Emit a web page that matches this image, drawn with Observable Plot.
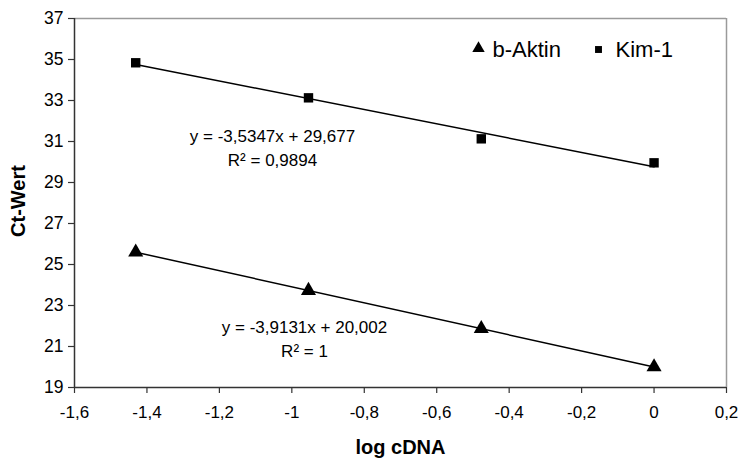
<!DOCTYPE html>
<html>
<head>
<meta charset="utf-8">
<script src="https://cdn.jsdelivr.net/npm/d3@7"></script>
<script src="https://cdn.jsdelivr.net/npm/@observablehq/plot@0.6"></script>
<style>
  html, body { margin: 0; padding: 0; background: #fff; }
  #chart svg { display: block; }
</style>
</head>
<body>
<div id="chart"></div>
<script>
// ---- data ----
const xTicks = [-1.6, -1.4, -1.2, -1, -0.8, -0.6, -0.4, -0.2, 0, 0.2];
const yTicks = [19, 21, 23, 25, 27, 29, 31, 33, 35, 37];
const logCDNA = [-1.431, -0.954, -0.477, 0];
const aktinCt = [25.6, 23.73, 21.87, 20.0];
const kimCt = [34.84, 33.13, 31.13, 29.96];
const seriesNames = ["b-Aktin", "Kim-1"];
const seriesSymbols = ["triangle", "square"];
const equations = ["y = -3,9131x + 20,002\nR² = 1", "y = -3,5347x + 29,677\nR² = 0,9894"];
const xTitle = "log cDNA";
const yTitle = "Ct-Wert";

// ---- table ----
const seriesValues = [aktinCt, kimCt];
const rows = seriesNames.flatMap((name, i) =>
  logCDNA.map((x, j) => ({series: name, x, y: seriesValues[i][j]}))
);

const fmt = d => d3.format(".1~f")(d).replace("\u2212", "-").replace(".", ",");

const font = "Liberation Sans, Arial, Helvetica, sans-serif";

const marks = [];

// frame: top/right gray, left/bottom dark
marks.push(Plot.ruleY([yTicks[yTicks.length - 1]], {stroke: "#9a9a9a", strokeWidth: 1.5}));
marks.push(Plot.ruleX([xTicks[xTicks.length - 1]], {stroke: "#9a9a9a", strokeWidth: 1.5}));
marks.push(Plot.ruleY([yTicks[0]], {stroke: "#333", strokeWidth: 1.5}));
marks.push(Plot.ruleX([xTicks[0]], {stroke: "#333", strokeWidth: 1.5}));

// axes
marks.push(Plot.axisX({ticks: xTicks, tickFormat: fmt, tickSize: 6, tickPadding: 12,
  stroke: "#333", strokeWidth: 1.2, fontSize: 17, label: null}));
marks.push(Plot.axisY({ticks: yTicks, tickFormat: fmt, tickSize: 6, tickPadding: 5,
  stroke: "#333", strokeWidth: 1.2, fontSize: 17.5, label: null}));

// regression lines
seriesNames.forEach(name => {
  marks.push(Plot.linearRegressionY(rows.filter(r => r.series === name),
    {x: "x", y: "y", stroke: "#000", strokeWidth: 1.5, ci: 0}));
});

// points
const symbolR = {triangle: 5.6, square: 5.3};
seriesNames.forEach((name, i) => {
  marks.push(Plot.dot(rows.filter(r => r.series === name),
    {x: "x", y: "y", symbol: () => seriesSymbols[i], r: symbolR[seriesSymbols[i]],
     fill: "#000", stroke: "none"}));
});

// equations (Aktin, Kim-1)
const eqDx = [230, 198];
const eqDy = [298, 107];
equations.forEach((eq, i) => {
  marks.push(Plot.text([eq], {frameAnchor: "top-left", dx: eqDx[i], dy: eqDy[i],
    text: d => d, textAnchor: "middle", lineAnchor: "top", lineHeight: 1.4,
    fontSize: 17, fill: "#000"}));
});

// legend
const legDotDx = [404, 524];
const legTextDx = [418, 541];
const legR = {triangle: 4.6, square: 3.9};
seriesNames.forEach((name, i) => {
  marks.push(Plot.dot([name], {frameAnchor: "top-left", dx: legDotDx[i], dy: i === 0 ? 30 : 31,
    symbol: () => seriesSymbols[i], r: legR[seriesSymbols[i]], fill: "#000", stroke: "none"}));
  marks.push(Plot.text([name], {frameAnchor: "top-left", dx: legTextDx[i], dy: 31,
    text: d => d, textAnchor: "start", lineAnchor: "middle", fontSize: 22, fill: "#000"}));
});

// axis titles
marks.push(Plot.text([xTitle], {frameAnchor: "bottom", dy: 60, text: d => d,
  textAnchor: "middle", lineAnchor: "middle", fontSize: 20, fontWeight: "bold", fill: "#000"}));
marks.push(Plot.text([yTitle], {frameAnchor: "left", dx: -56, dy: -2, rotate: -90, text: d => d,
  textAnchor: "middle", lineAnchor: "middle", fontSize: 20, fontWeight: "bold", fill: "#000"}));

const chart = Plot.plot({
  width: 741,
  height: 459,
  marginLeft: 74,
  marginRight: 15,
  marginTop: 18,
  marginBottom: 72,
  x: {domain: [xTicks[0], xTicks[xTicks.length - 1]]},
  y: {domain: [yTicks[0], yTicks[yTicks.length - 1]]},
  style: {fontFamily: font, fontSize: "16px", color: "#000", background: "#fff", overflow: "visible"},
  marks
});
document.getElementById("chart").appendChild(chart);
</script>
</body>
</html>
